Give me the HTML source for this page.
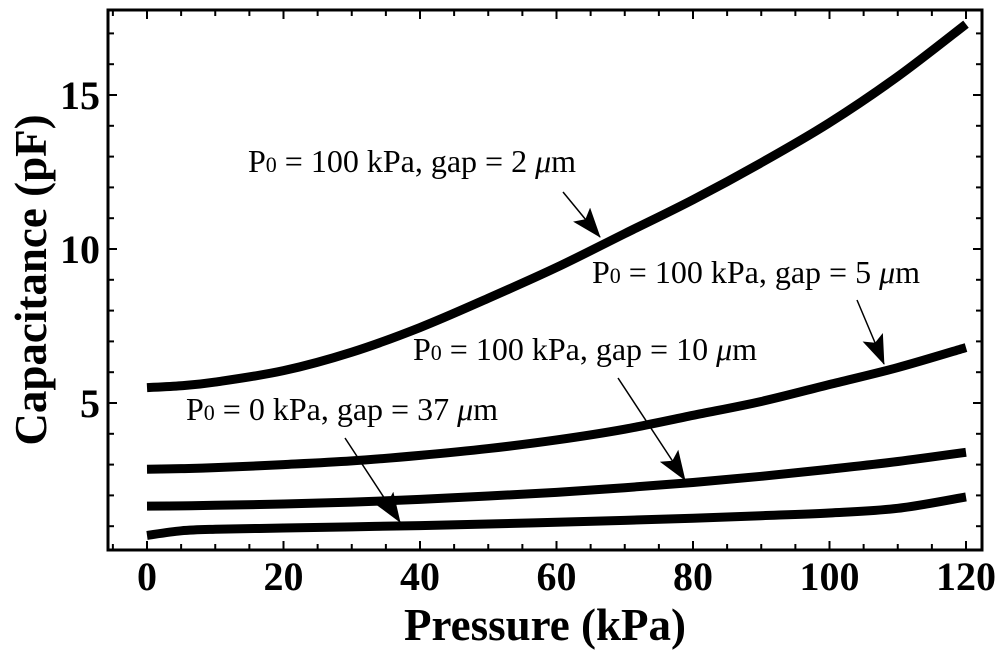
<!DOCTYPE html>
<html><head><meta charset="utf-8"><style>
html,body{margin:0;padding:0;background:#fff;}
svg{display:block;font-family:"Liberation Serif",serif;}
</style></head><body>
<svg id="chart" width="1000" height="654" viewBox="0 0 1000 654">
<defs>
<marker id="ahb" markerWidth="30" markerHeight="22" refX="29" refY="11" orient="auto" markerUnits="userSpaceOnUse" viewBox="0 0 30 22"><path d="M0,0 L30,11 L0,22 L6,11 Z" fill="#000"/></marker></defs>
<g id="axes"></g><g id="series"></g><g id="ann"></g>
</svg>
<script>
const xTicks=[0,20,40,60,80,100,120];
const yTicks=[5,10,15];
const pressure=[0,5,10,20,30,40,50,60,70,80,90,100,110,120];
const gap2=[5.5,5.56,5.68,6.05,6.65,7.45,8.4,9.4,10.5,11.6,12.8,14.1,15.6,17.3];
const gap5=[2.85,2.87,2.9,3.0,3.12,3.3,3.52,3.8,4.15,4.6,5.05,5.6,6.15,6.8];
const gap10=[1.65,1.66,1.68,1.72,1.78,1.87,1.98,2.1,2.25,2.42,2.62,2.85,3.1,3.4];
const gap37=[0.7,0.85,0.9,0.94,0.98,1.02,1.07,1.13,1.19,1.26,1.34,1.43,1.58,1.95];
const X=v=>147+v*6.825, Y=v=>403-(v-5)*30.8;
const NS="http://www.w3.org/2000/svg";
function mk(t,a,p){const e=document.createElementNS(NS,t);for(const k in a)e.setAttribute(k,a[k]);p.appendChild(e);return e;}
const ax=document.getElementById('axes');
const frame=mk('rect',{x:108,y:10,width:874,height:540,fill:'none',stroke:'#000','stroke-width':3},ax);


for(let v=-5;v<=120;v+=5){const x=X(v);if(x<110)continue;const L=xTicks.includes(v)?9:6;
 mk('line',{x1:x,x2:x,y1:550,y2:550-L,stroke:'#000','stroke-width':2},ax);
 mk('line',{x1:x,x2:x,y1:10,y2:10+L,stroke:'#000','stroke-width':2},ax);}
for(let v=1;v<=17;v++){const y=Y(v);const L=yTicks.includes(v)?9:6;
 mk('line',{x1:108,x2:108+L,y1:y,y2:y,stroke:'#000','stroke-width':2},ax);
 mk('line',{x1:982,x2:982-L,y1:y,y2:y,stroke:'#000','stroke-width':2},ax);}
xTicks.forEach(v=>{const t=mk('text',{x:X(v),y:590,'text-anchor':'middle','font-size':40,'font-weight':'bold'},ax);t.textContent=v;
 
 });
yTicks.forEach(v=>{const t=mk('text',{x:100,y:Y(v)+14,'text-anchor':'end','font-size':40,'font-weight':'bold'},ax);t.textContent=v;
 
 });
const xt=mk('text',{x:545,y:640,'text-anchor':'middle','font-size':45,'font-weight':'bold'},ax);xt.textContent='Pressure (kPa)';


const yt=mk('text',{x:0,y:0,transform:'translate(46,280) rotate(-90)','text-anchor':'middle','font-size':45,'font-weight':'bold'},ax);yt.textContent='Capacitance (pF)';


const sg=document.getElementById('series');
[[gap2,'curve-gap-2um'],[gap5,'curve-gap-5um'],[gap10,'curve-gap-10um'],[gap37,'curve-gap-37um']].forEach(([d,n])=>{
 let s='';for(let i=0;i<pressure.length;i++){const x=X(pressure[i]),y=Y(d[i]);
  if(i===0)s+='M'+x+','+y;else{const px=X(pressure[i-1]),py=Y(d[i-1]);
   const p0=i>1?[X(pressure[i-2]),Y(d[i-2])]:[px,py];const p3=i<pressure.length-1?[X(pressure[i+1]),Y(d[i+1])]:[x,y];
   s+=' C'+(px+(x-p0[0])/6)+','+(py+(y-p0[1])/6)+' '+(x-(p3[0]-px)/6)+','+(y-(p3[1]-py)/6)+' '+x+','+y;}}
 const p=mk('path',{d:s,fill:'none',stroke:'#000','stroke-width':9},sg);
 
 });
const an=document.getElementById('ann');
const labels=[['P','100 kPa, gap = 2 ','μm',248,172,563,192,600,237,'label-gap-2um'],
['P','100 kPa, gap = 5 ','μm',592,283,857,300,884,364,'label-gap-5um'],
['P','100 kPa, gap = 10 ','μm',413,360,618,378,685,480,'label-gap-10um'],
['P','0 kPa, gap = 37 ','μm',186,420,345,438,400,522,'label-gap-37um']];
labels.forEach(l=>{const t=mk('text',{x:l[3],y:l[4],'font-size':32},an);
 t.innerHTML='P<tspan font-size="22">0</tspan> = '+l[1]+'<tspan font-style="italic">μ</tspan>m';
 
 
 const a=mk('line',{x1:l[5],y1:l[6],x2:l[7],y2:l[8],stroke:'#000','stroke-width':1.5,'marker-end':'url(#ahb)'},an);
 
 });
</script>
</body></html>
